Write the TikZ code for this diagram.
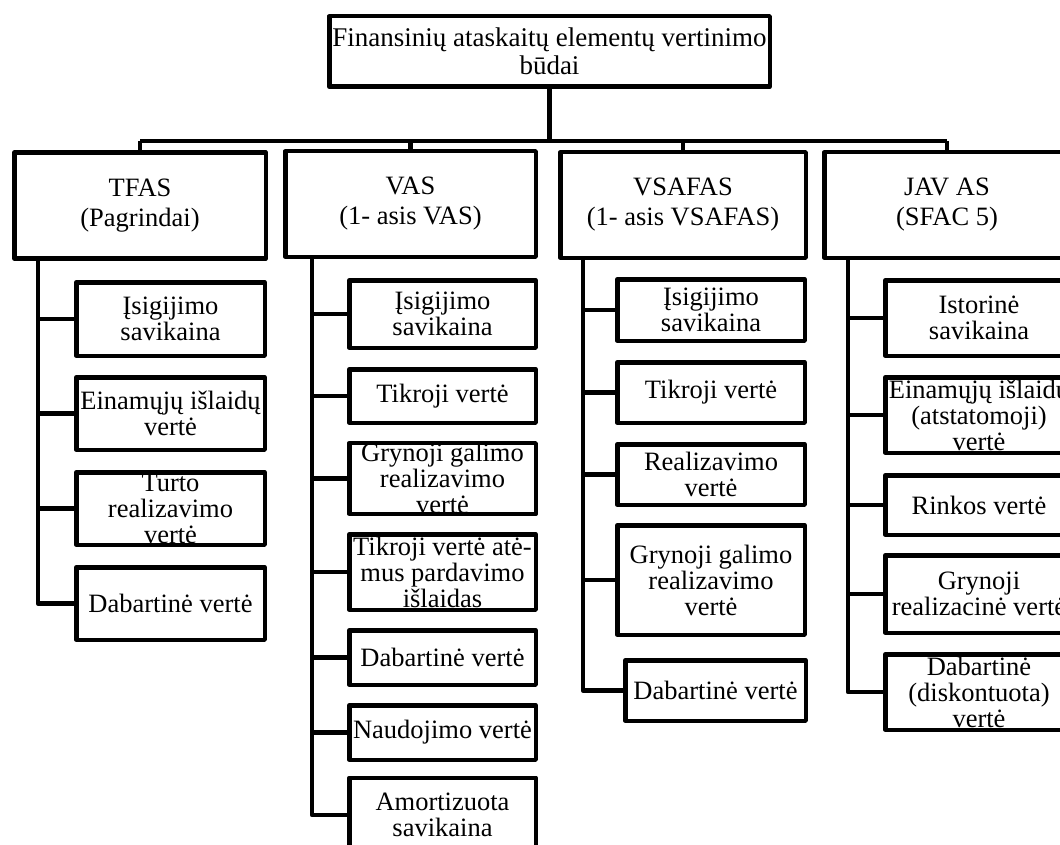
\documentclass[tikz,border=0pt]{standalone}
\usepackage{fontspec}
\setmainfont{Liberation Serif}
\tikzset{
  box/.style={draw, line width=4.5pt, line join=round, inner sep=0pt, align=center,
    font=\fontsize{26.5}{26}\selectfont},
  head/.style={box, font=\fontsize{26.5}{30}\selectfont, minimum height=105.5pt},
  link/.style={line width=4.5pt, line join=round}
}
\begin{document}
\begin{tikzpicture}[x=1pt,y=-1pt]
\useasboundingbox (0,0) rectangle (1060,845);
%\draw[step=50,gray,very thin] (0,0) grid (1060,845);
\node[box, font=\fontsize{27}{28}\selectfont, minimum width=440.5pt, minimum height=70.5pt] (title) at (549.5,51.5)
  {Finansinių ataskaitų elementų vertinimo\\būdai};

\node[head, minimum width=251.5pt] (tfas) at (140,205.5) {TFAS\\(Pagrindai)};
\node[head, minimum width=250.5pt] (vas) at (410.5,204) {VAS\\(1- asis VAS)};
\node[head, minimum width=245.5pt] (vsafas) at (683,205) {VSAFAS\\(1- asis VSAFAS)};
\node[head, minimum width=245.5pt] (jav) at (947,205) {JAV AS\\(SFAC 5)};

% bus
\coordinate (bus) at (0,141);
\draw[link] (title.south) -- (title.south |- bus);
\draw[link] (tfas.north |- bus) -- (jav.north |- bus);
\foreach \h in {tfas,vas,vsafas,jav}
  \draw[link] (\h.north) -- (\h.north |- bus);

% TFAS
\node[box, minimum width=188.5pt, minimum height=73.5pt] (t1) at (170.5,319) {Įsigijimo\\savikaina};
\node[box, minimum width=188.5pt, minimum height=72.5pt] (t2) at (170.5,413.5) {Einamųjų išlaidų\\vertė};
\node[box, minimum width=188.5pt, minimum height=72.5pt] (t3) at (170.5,508.5) {Turto\\realizavimo\\vertė};
\node[box, minimum width=188.5pt, minimum height=72.5pt] (t4) at (170.5,603.5) {Dabartinė vertė};
\coordinate (tt) at (38,0);
\draw[link] (tfas.south -| tt) |- (t4.west);
\foreach \c in {t1,t2,t3}
  \draw[link] (\c.west) -- (\c.west -| tt);

% VAS
\node[box, minimum width=186.5pt, minimum height=67.5pt] (v1) at (442.5,314) {Įsigijimo\\savikaina};
\node[box, minimum width=186.5pt, minimum height=53.5pt] (v2) at (442.5,396) {Tikroji vertė};
\node[box, minimum width=186.5pt, minimum height=68.5pt] (v3) at (442.5,478.5) {Grynoji galimo\\realizavimo\\vertė};
\node[box, minimum width=186.5pt, minimum height=75.5pt] (v4) at (442.5,572) {Tikroji vertė atė-\\mus pardavimo\\išlaidas};
\node[box, minimum width=186.5pt, minimum height=54.5pt] (v5) at (442.5,657.5) {Dabartinė vertė};
\node[box, minimum width=186.5pt, minimum height=54.5pt] (v6) at (442.5,732.5) {Naudojimo vertė};
\node[box, minimum width=186.5pt, minimum height=74.5pt] (v7) at (442.5,815) {Amortizuota\\savikaina};
\coordinate (vt) at (312,0);
\draw[link] (vas.south -| vt) |- (v7.west);
\foreach \c in {v1,v2,v3,v4,v5,v6}
  \draw[link] (\c.west) -- (\c.west -| vt);

% VSAFAS
\node[box, minimum width=187.5pt, minimum height=61.5pt] (s1) at (711,310) {Įsigijimo\\savikaina};
\node[box, minimum width=187.5pt, minimum height=60.5pt] (s2) at (711,392.5) {Tikroji vertė};
\node[box, minimum width=187.5pt, minimum height=60.5pt] (s3) at (711,474.5) {Realizavimo\\vertė};
\node[box, minimum width=187.5pt, minimum height=109.5pt] (s4) at (711,580) {Grynoji galimo\\realizavimo\\vertė};
\node[box, minimum width=180.5pt, minimum height=60.5pt] (s5) at (715.5,690.5) {Dabartinė vertė};
\coordinate (st) at (583,0);
\draw[link] (vsafas.south -| st) |- (s5.west);
\foreach \c in {s1,s2,s3,s4}
  \draw[link] (\c.west) -- (\c.west -| st);

% JAV AS
\node[box, minimum width=187.5pt, minimum height=75.5pt] (j1) at (979,318) {Istorinė\\savikaina};
\node[box, minimum width=187.5pt, minimum height=75.5pt] (j2) at (979,415) {Einamųjų išlaidų\\(atstatomoji)\\vertė};
\node[box, minimum width=187.5pt, minimum height=59.5pt] (j3) at (979,505) {Rinkos vertė};
\node[box, minimum width=187.5pt, minimum height=77.5pt] (j4) at (979,594) {Grynoji\\realizacinė vertė};
\node[box, minimum width=187.5pt, minimum height=75.5pt] (j5) at (979,692) {Dabartinė\\(diskontuota)\\vertė};
\coordinate (jt) at (848,0);
\draw[link] (jav.south -| jt) |- (j5.west);
\foreach \c in {j1,j2,j3,j4}
  \draw[link] (\c.west) -- (\c.west -| jt);
\end{tikzpicture}
\end{document}
